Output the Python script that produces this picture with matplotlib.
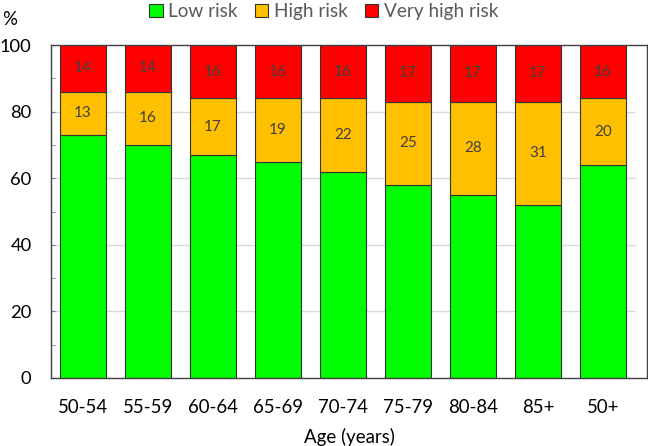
import matplotlib
matplotlib.use("Agg")
import matplotlib.pyplot as plt
from matplotlib.patches import Patch
import numpy as np

plt.rcParams['font.family'] = ['Lato', 'DejaVu Sans']

categories = ["50-54", "55-59", "60-64", "65-69", "70-74", "75-79", "80-84", "85+", "50+"]
low_risk = [73, 70, 67, 65, 62, 58, 55, 52, 64]
high_risk = [13, 16, 17, 19, 22, 25, 28, 31, 20]
very_high_risk = [14, 14, 16, 16, 16, 17, 17, 17, 16]
series_names = ["Low risk", "High risk", "Very high risk"]
colors = ["#00FF00", "#FFC000", "#FF0000"]

fig = plt.figure(figsize=(6.48, 4.46), dpi=100)
ax = fig.add_axes([51/648, (446-378)/446, (647-51)/648, (378-45)/446])

x = np.arange(len(categories))
width = 0.71
low = np.array(low_risk, dtype=float)
high = np.array(high_risk, dtype=float)
vhigh = np.array(very_high_risk, dtype=float)

ax.hlines([20, 40, 60, 80], -0.5, 8.5, colors="#D9D9D9", linewidth=1.0, zorder=0)

bottoms = [np.zeros_like(low), low, low + high]
vals = [low, high, vhigh]
for i, (v, b) in enumerate(zip(vals, bottoms)):
    ax.bar(x, v, width, bottom=b, color=colors[i], edgecolor="#333333",
           linewidth=0.8, zorder=2)
    if i > 0:
        for xi, vi, bi in zip(x, v, b):
            ax.text(xi, bi + vi / 2, f"{int(vi)}", ha="center", va="center",
                    fontsize=11, color="#404040", zorder=3)

ax.set_xlim(-0.492, 8.677)
ax.set_ylim(0, 100)
ax.set_yticks([0, 20, 40, 60, 80, 100])
ax.set_yticks([10, 30, 50, 70, 90], minor=True)
ax.set_xticks(x)
ax.set_xticklabels(categories, fontsize=13.4)
ax.tick_params(axis='x', length=0, pad=15)
ax.tick_params(axis='y', which='both', direction='in', length=3, color="#5B7FC4",
               labelsize=13.2, pad=14)
for s in ax.spines.values():
    s.set_color("#404040")
    s.set_linewidth(1.0)

ax.set_xlabel("Age (years)", fontsize=13.4, labelpad=9)

fig.text(10/648, 1 - 19.5/446, "%", ha="center", va="center", fontsize=13.4)

handles = [Patch(facecolor=c, edgecolor="#333333", linewidth=0.8) for c in colors]
fig.legend(handles, series_names, loc="center", bbox_to_anchor=(0.5, 1 - 11.5/446),
           ncol=3, frameon=False, fontsize=13.7, handlelength=0.7, handleheight=0.7,
           handletextpad=0.3, columnspacing=0.9, labelcolor="#595959",
           borderpad=0.1)

fig.savefig("out.png", dpi=100)
